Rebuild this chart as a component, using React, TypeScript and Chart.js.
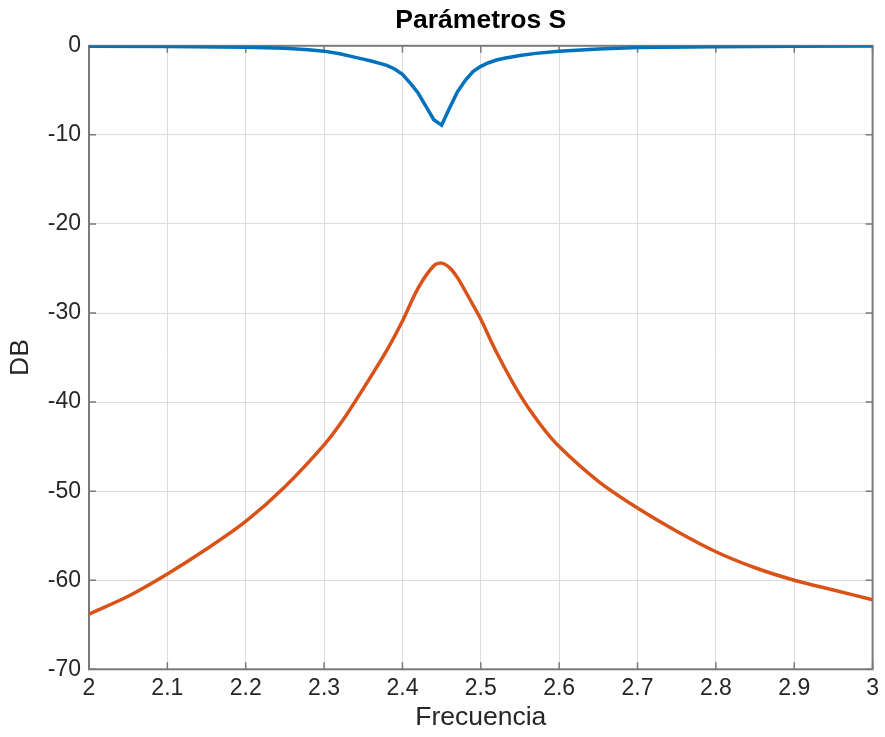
import React, { useEffect, useRef } from "react";
import { Chart, registerables } from "chart.js";

Chart.register(...registerables);

const titleText = "Parámetros S";
const xTitle = "Frecuencia";
const yTitle = "DB";

const xTickValues = [2, 2.1, 2.2, 2.3, 2.4, 2.5, 2.6, 2.7, 2.8, 2.9, 3];
const xTickLabels = ["2", "2.1", "2.2", "2.3", "2.4", "2.5", "2.6", "2.7", "2.8", "2.9", "3"];
const yTickValues = [-70, -60, -50, -40, -30, -20, -10, 0];
const yTickLabels = ["-70", "-60", "-50", "-40", "-30", "-20", "-10", "0"];

const s11Freq = [2.0, 2.1, 2.2, 2.25, 2.28, 2.3, 2.32, 2.34, 2.35, 2.36, 2.37, 2.38, 2.39, 2.4, 2.41, 2.42, 2.43, 2.44, 2.45, 2.46, 2.47, 2.48, 2.49, 2.5, 2.51, 2.52, 2.53, 2.55, 2.57, 2.6, 2.65, 2.7, 2.8, 2.9, 3.0];
const s11Db = [-0.05, -0.08, -0.15, -0.28, -0.45, -0.6, -0.9, -1.3, -1.5, -1.7, -1.95, -2.2, -2.6, -3.2, -4.2, -5.3, -6.8, -8.3, -8.9, -7.0, -5.2, -3.9, -2.9, -2.3, -1.9, -1.6, -1.4, -1.1, -0.85, -0.6, -0.35, -0.2, -0.1, -0.05, -0.03];

const s21Freq = [2.0, 2.05, 2.1, 2.15, 2.2, 2.25, 2.3, 2.325, 2.35, 2.38, 2.4, 2.42, 2.44, 2.45, 2.46, 2.47, 2.48, 2.49, 2.5, 2.52, 2.55, 2.575, 2.6, 2.65, 2.7, 2.75, 2.8, 2.85, 2.9, 2.95, 3.0];
const s21Db = [-63.8, -61.8, -59.3, -56.5, -53.4, -49.5, -44.8, -41.9, -38.5, -34.2, -30.9, -27.2, -24.7, -24.4, -24.9, -26.0, -27.5, -29.1, -30.7, -34.4, -39.2, -42.4, -45.0, -48.9, -51.9, -54.5, -56.8, -58.6, -60.0, -61.1, -62.2];

const FONT = "'Liberation Sans', Arial, Helvetica, sans-serif";

const boxPlugin = {
  id: "matlabBox",
  beforeDatasetsDraw(chart: any) {
    const { ctx, chartArea } = chart;
    const { left, right, top, bottom } = chartArea;
    const xs = chart.scales.x;
    const ys = chart.scales.y;
    ctx.save();
    ctx.strokeStyle = "#7a7a7a";
    ctx.lineWidth = 2;
    ctx.strokeRect(left, top, right - left, bottom - top);
    ctx.lineWidth = 1.5;
    const tl = 7;
    ctx.beginPath();
    xTickValues.forEach((v) => {
      const px = xs.getPixelForValue(v);
      ctx.moveTo(px, bottom);
      ctx.lineTo(px, bottom - tl);
      ctx.moveTo(px, top);
      ctx.lineTo(px, top + tl);
    });
    yTickValues.forEach((v) => {
      const py = ys.getPixelForValue(v);
      ctx.moveTo(left, py);
      ctx.lineTo(left + tl, py);
      ctx.moveTo(right, py);
      ctx.lineTo(right - tl, py);
    });
    ctx.stroke();
    ctx.restore();
  },
};

export default function App() {
  const ref = useRef<HTMLCanvasElement | null>(null);
  useEffect(() => {
    if (!ref.current) return;
    const chart = new Chart(ref.current, {
      type: "line",
      data: {
        datasets: [
          {
            label: "S11",
            data: s11Freq.map((f, i) => ({ x: f, y: s11Db[i] })),
            borderColor: "#0072BD",
            borderWidth: 3.5,
            pointRadius: 0,
            tension: 0,
            fill: false,
          },
          {
            label: "S21",
            data: s21Freq.map((f, i) => ({ x: f, y: s21Db[i] })),
            borderColor: "#D95319",
            borderWidth: 3.5,
            pointRadius: 0,
            tension: 0.3,
            fill: false,
          },
        ],
      },
      options: {
        responsive: false,
        animation: false,
        layout: { padding: { left: 0, right: 7, top: 0, bottom: 0 } },
        plugins: {
          legend: { display: false },
          tooltip: { enabled: false },
          title: {
            display: true,
            fullSize: false,
            text: titleText,
            color: "#000",
            font: { family: FONT, size: 26.5, weight: "bold" },
            padding: { top: 5, bottom: 9 },
          },
        },
        scales: {
          x: {
            type: "linear",
            min: 2,
            max: 3,
            afterBuildTicks: (s: any) => {
              s.ticks = xTickValues.map((v) => ({ value: v }));
            },
            afterFit: (s: any) => {
              s.height = 67.7;
            },
            ticks: {
              color: "#262626",
              font: { family: FONT, size: 23 },
              padding: 6,
              maxRotation: 0,
              autoSkip: false,
              callback: (_v: any, i: number) => xTickLabels[i],
            },
            grid: { color: "#dcdcdc", lineWidth: 1, drawTicks: false },
            border: { display: false },
            title: {
              display: true,
              text: xTitle,
              color: "#262626",
              font: { family: FONT, size: 26.5 },
              padding: { top: 0, bottom: 3 },
            },
          },
          y: {
            type: "linear",
            min: -70,
            max: 0,
            afterBuildTicks: (s: any) => {
              s.ticks = yTickValues.map((v) => ({ value: v }));
            },
            afterFit: (s: any) => {
              s.width = 89;
            },
            ticks: {
              color: "#262626",
              font: { family: FONT, size: 23 },
              padding: 8,
              autoSkip: false,
              callback: (_v: any, i: number) => yTickLabels[i],
            },
            grid: { color: "#dcdcdc", lineWidth: 1, drawTicks: false },
            border: { display: false },
            title: {
              display: true,
              text: yTitle,
              color: "#262626",
              font: { family: FONT, size: 26.5 },
              padding: { top: 5, bottom: 0 },
            },
          },
        },
      },
      plugins: [boxPlugin],
    } as any);
    return () => chart.destroy();
  }, []);
  return (
    <div style={{ position: "absolute", left: 0, top: 0, width: 885, height: 737, background: "#fff" }}>
      <canvas ref={ref} width={885} height={737} style={{ display: "block" }} />
    </div>
  );
}
